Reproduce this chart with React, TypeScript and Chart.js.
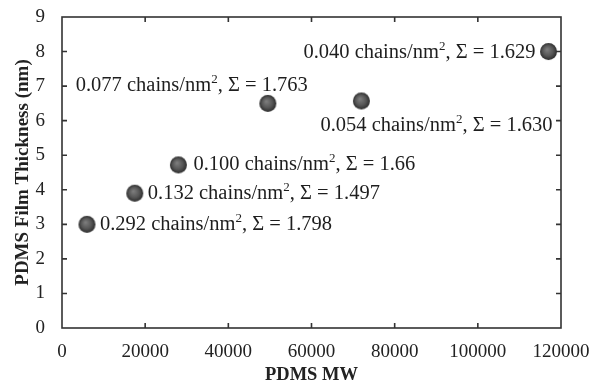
import React, { useEffect, useRef } from "react";
import { Chart, registerables } from "chart.js";

Chart.register(...registerables);

// ---- data ----
const mw = [6000, 17500, 28000, 49500, 72000, 117000];
const thickness = [3.0, 3.9, 4.72, 6.5, 6.57, 8.0];
const density = ["0.292", "0.132", "0.100", "0.077", "0.054", "0.040"];
const sigma = ["1.798", "1.497", "1.66", "1.763", "1.630", "1.629"];
const xTitle = "PDMS MW";
const yTitle = "PDMS Film Thickness (nm)";
const xRange = [0, 120000];
const yRange = [0, 9];

// label placement relative to each point (pixels)
const placement = [
  { align: "left", dx: 13, dy: 0 },
  { align: "left", dx: 13, dy: 0 },
  { align: "left", dx: 15, dy: 0 },
  { align: "right", dx: 40, dy: -18 },
  { align: "left", dx: -41, dy: 25 },
  { align: "right", dx: -13, dy: 1 },
];

const FONT = "'Liberation Serif', 'Times New Roman', serif";
const LABEL_SIZE = 20.5;

function makeSphere(r: number) {
  const size = Math.ceil(r * 2 + 2);
  const c = document.createElement("canvas");
  c.width = size;
  c.height = size;
  const ctx = c.getContext("2d")!;
  const cx = size / 2;
  const g = ctx.createRadialGradient(cx - 1.5, cx - 2, 0.5, cx, cx, r);
  g.addColorStop(0, "#7c7c7c");
  g.addColorStop(0.6, "#555");
  g.addColorStop(1, "#2c2c2c");
  ctx.fillStyle = g;
  ctx.beginPath();
  ctx.arc(cx, cx, r, 0, Math.PI * 2);
  ctx.fill();
  return c;
}

const labelPlugin = {
  id: "pointLabels",
  afterDatasetsDraw(chart: any) {
    const ctx = chart.ctx;
    const meta = chart.getDatasetMeta(0);
    ctx.save();
    ctx.fillStyle = "#1e1e1e";
    ctx.textBaseline = "middle";
    meta.data.forEach((el: any, i: number) => {
      const p = placement[i];
      const a = `${density[i]} chains/nm`;
      const sup = "2";
      const b = `, Σ = ${sigma[i]}`;
      ctx.font = `${LABEL_SIZE}px ${FONT}`;
      const wa = ctx.measureText(a).width;
      const wb = ctx.measureText(b).width;
      ctx.font = `13px ${FONT}`;
      const ws = ctx.measureText(sup).width;
      const total = wa + ws + wb;
      let x = el.x + p.dx;
      if (p.align === "right") x -= total;
      const y = el.y + p.dy;
      ctx.textAlign = "left";
      ctx.font = `${LABEL_SIZE}px ${FONT}`;
      ctx.fillText(a, x, y);
      ctx.font = `13px ${FONT}`;
      ctx.fillText(sup, x + wa, y - 6);
      ctx.font = `${LABEL_SIZE}px ${FONT}`;
      ctx.fillText(b, x + wa + ws, y);
    });
    ctx.restore();
  },
};

const framePlugin = {
  id: "frameTicks",
  afterDraw(chart: any) {
    const { ctx, chartArea: ca, scales } = chart;
    const len = 5;
    ctx.save();
    ctx.strokeStyle = "#333";
    ctx.lineWidth = 1.6;
    ctx.strokeRect(ca.left, ca.top, ca.right - ca.left, ca.bottom - ca.top);
    ctx.beginPath();
    scales.x.ticks.forEach((t: any) => {
      const px = scales.x.getPixelForValue(t.value);
      if (px <= ca.left + 1 || px >= ca.right - 1) return;
      ctx.moveTo(px, ca.bottom);
      ctx.lineTo(px, ca.bottom - len);
      ctx.moveTo(px, ca.top);
      ctx.lineTo(px, ca.top + len);
    });
    scales.y.ticks.forEach((t: any) => {
      const py = scales.y.getPixelForValue(t.value);
      if (py <= ca.top + 1 || py >= ca.bottom - 1) return;
      ctx.moveTo(ca.left, py);
      ctx.lineTo(ca.left + len, py);
      ctx.moveTo(ca.right, py);
      ctx.lineTo(ca.right - len, py);
    });
    ctx.stroke();
    ctx.restore();
  },
};

export default function App() {
  const ref = useRef<HTMLCanvasElement>(null);
  useEffect(() => {
    document.body.style.margin = "0";
    const canvas = ref.current!;
    const sphere = makeSphere(8.5);
    const chart = new Chart(canvas, {
      type: "scatter",
      data: {
        datasets: [
          {
            data: mw.map((x, i) => ({ x, y: thickness[i] })),
            pointStyle: sphere as any,
            pointRadius: 8.5,
            pointHoverRadius: 8.5,
            borderWidth: 0,
          },
        ],
      },
      options: {
        responsive: false,
        animation: false,
        events: [],
        layout: { padding: { top: 17, right: 31, left: 0, bottom: 0 } },
        plugins: { legend: { display: false }, tooltip: { enabled: false } },
        scales: {
          x: {
            type: "linear",
            min: xRange[0],
            max: xRange[1],
            grid: { display: false, drawTicks: false },
            border: { display: false },
            ticks: {
              stepSize: 20000,
              padding: 13,
              color: "#222",
              font: { family: FONT, size: 19 },
              maxRotation: 0,
              callback: (v: any) => String(v),
            },
            title: {
              display: true,
              text: xTitle,
              color: "#222",
              font: { family: FONT, size: 18.5, weight: "bold" },
              padding: { top: 0, bottom: -3 },
            },
            afterFit: (s: any) => {
              s.height = 55;
              s.paddingLeft = 0;
              s.paddingRight = 0;
            },
          },
          y: {
            type: "linear",
            min: yRange[0],
            max: yRange[1],
            grid: { display: false, drawTicks: false },
            border: { display: false },
            ticks: {
              stepSize: 1,
              padding: 17,
              color: "#222",
              font: { family: FONT, size: 19 },
            },
            title: {
              display: true,
              text: yTitle,
              color: "#222",
              font: { family: FONT, size: 19, weight: "bold" },
              padding: { top: 12, bottom: 0 },
            },
            afterFit: (s: any) => {
              s.width = 62;
              s.paddingTop = 0;
              s.paddingBottom = 0;
            },
          },
        },
      },
      plugins: [labelPlugin, framePlugin],
    });
    return () => chart.destroy();
  }, []);
  return <canvas ref={ref} width={592} height={383} style={{ display: "block", width: 592, height: 383 }} />;
}
